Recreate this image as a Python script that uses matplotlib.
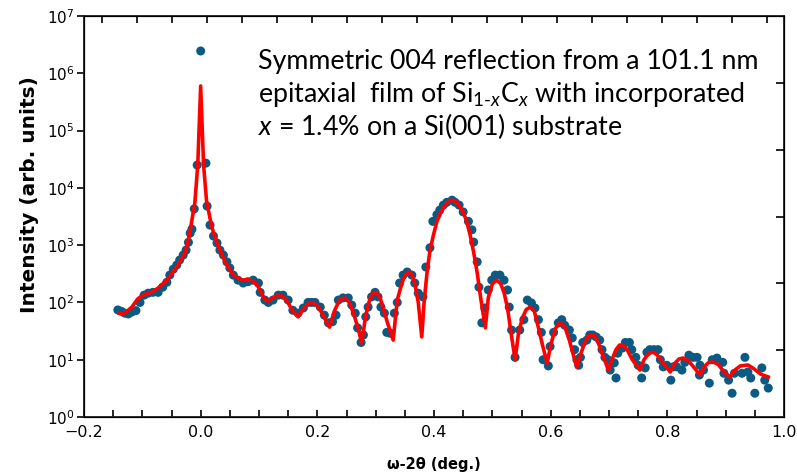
import matplotlib
matplotlib.use("Agg")
import matplotlib.pyplot as plt
import numpy as np

# measured data (dots)
dot_x = [-0.142, -0.136, -0.130, -0.124, -0.118, -0.111, -0.104, -0.097, -0.090, -0.082,
         -0.073, -0.065, -0.058, -0.053, -0.047, -0.041, -0.036, -0.030, -0.025, -0.021,
         -0.018, -0.015, -0.011, -0.006, 0.000, 0.009, 0.011, 0.016, 0.022, 0.028,
         0.033, 0.039, 0.045, 0.050, 0.056, 0.064, 0.073, 0.081, 0.090, 0.099,
         0.102, 0.110, 0.116, 0.124, 0.133, 0.141, 0.150, 0.158, 0.167, 0.176,
         0.184, 0.190, 0.196, 0.205, 0.212, 0.219, 0.226, 0.232, 0.236, 0.244,
         0.253, 0.259, 0.265, 0.269, 0.275, 0.279, 0.283, 0.287, 0.293, 0.299,
         0.304, 0.309, 0.315, 0.319, 0.325, 0.332, 0.337, 0.341, 0.347, 0.354,
         0.362, 0.367, 0.373, 0.381, 0.386, 0.393, 0.398, 0.405, 0.410, 0.416,
         0.422, 0.431, 0.436, 0.443, 0.450, 0.459, 0.465, 0.468, 0.474, 0.477,
         0.482, 0.487, 0.493, 0.499, 0.505, 0.513, 0.520, 0.526, 0.529, 0.533,
         0.539, 0.547, 0.554, 0.560, 0.567, 0.573, 0.579, 0.584, 0.587, 0.596,
         0.599, 0.605, 0.613, 0.619, 0.624, 0.632, 0.637, 0.641, 0.645, 0.648,
         0.651, 0.655, 0.662, 0.667, 0.672, 0.678, 0.684, 0.688, 0.693, 0.698,
         0.702, 0.709, 0.712, 0.715, 0.723, 0.728, 0.735, 0.739, 0.746, 0.750,
         0.756, 0.762, 0.765, 0.770, 0.777, 0.784, 0.788, 0.793, 0.799, 0.806,
         0.810, 0.816, 0.825, 0.830, 0.837, 0.844, 0.851, 0.855, 0.856, 0.862,
         0.872, 0.877, 0.885, 0.895, 0.897, 0.905, 0.911, 0.915, 0.928, 0.933,
         0.938, 0.943, 0.950, 0.962, 0.967, 0.973]
dot_y = [74, 70, 65, 63, 68, 72, 100, 134, 145, 150,
         150, 185, 225, 300, 380, 450, 550, 670, 820, 1120,
         1620, 1900, 4300, 25000, 2450000, 27000, 4800, 2240, 1440, 1090,
         820, 670, 510, 400, 300, 245, 218, 230, 245, 218,
         150, 110, 100, 110, 134, 134, 110, 73, 65, 80,
         100, 100, 100, 83, 60, 44, 46, 60, 110, 120,
         120, 90, 65, 36, 20, 27, 56, 83, 125, 150,
         125, 83, 65, 30, 29, 65, 100, 218, 300, 340,
         300, 218, 145, 125, 415, 900, 2600, 3400, 4100, 5000,
         5600, 6100, 5600, 5000, 3800, 2600, 1850, 1130, 510, 185,
         44, 80, 165, 245, 300, 300, 245, 165, 83, 33,
         11, 33, 50, 110, 98, 80, 50, 30, 10, 7.8,
         17, 30, 44, 50, 40, 33, 24, 15, 10, 8,
         11, 20, 22, 27, 27, 25, 22, 15, 11, 10,
         6.6, 8.8, 4.8, 13, 16, 20, 20, 15, 11, 8,
         4.8, 7.2, 13.5, 15, 15, 15, 10, 7.5, 8, 4.4,
         7.5, 7.5, 6.6, 9, 12, 11, 11, 5.4, 8, 6.6,
         3.9, 10, 10.7, 9, 5.8, 4.4, 2.6, 5.8, 5.8, 11,
         6.1, 4.8, 2.6, 7.2, 4.4, 3.2]

# simulated fit (red line)
fit_x = [-0.140, -0.130, -0.118, -0.108, -0.099, -0.085, -0.073, -0.058, -0.041, -0.027,
         -0.020, -0.010, -0.005, 0.000, 0.005, 0.010, 0.019, 0.028, 0.042, 0.056,
         0.070, 0.080, 0.088, 0.095, 0.099, 0.105, 0.110, 0.116, 0.124, 0.133,
         0.141, 0.150, 0.158, 0.167, 0.175, 0.184, 0.193, 0.201, 0.210, 0.216,
         0.221, 0.229, 0.238, 0.247, 0.255, 0.263, 0.270, 0.276, 0.283, 0.290,
         0.296, 0.301, 0.307, 0.313, 0.320, 0.330, 0.337, 0.345, 0.351, 0.357,
         0.362, 0.367, 0.373, 0.379, 0.383, 0.388, 0.393, 0.399, 0.405, 0.411,
         0.416, 0.421, 0.426, 0.431, 0.436, 0.442, 0.450, 0.456, 0.462, 0.468,
         0.474, 0.480, 0.488, 0.493, 0.500, 0.507, 0.514, 0.520, 0.526, 0.532,
         0.539, 0.545, 0.552, 0.558, 0.565, 0.572, 0.578, 0.586, 0.594, 0.600,
         0.608, 0.616, 0.624, 0.632, 0.638, 0.645, 0.652, 0.660, 0.667, 0.673,
         0.680, 0.688, 0.699, 0.705, 0.712, 0.718, 0.724, 0.731, 0.740, 0.753,
         0.760, 0.768, 0.776, 0.783, 0.792, 0.805, 0.812, 0.820, 0.827, 0.835,
         0.845, 0.856, 0.863, 0.871, 0.879, 0.887, 0.897, 0.907, 0.915, 0.925,
         0.938, 0.948, 0.960, 0.973]
fit_y = [65, 65, 83, 115, 134, 150, 178, 245, 415, 730,
         1400, 5400, 25000, 600000, 25000, 6000, 2080, 1090, 510, 300,
         246, 250, 240, 210, 186, 140, 115, 105, 122, 132,
         128, 98, 70, 56, 75, 95, 100, 85, 60, 45,
         37, 70, 110, 120, 100, 60, 35, 19.5, 60, 115,
         145, 150, 125, 80, 45, 22, 110, 218, 310, 340,
         310, 218, 100, 25, 100, 330, 800, 1500, 2600, 3600,
         4500, 5300, 5900, 6100, 5900, 5100, 3800, 2600, 1500, 750,
         330, 120, 36, 120, 210, 245, 215, 150, 80, 30,
         10, 30, 55, 75, 83, 70, 40, 18, 8.7, 18,
         35, 44, 38, 22, 13, 7.4, 13, 22, 27, 27,
         22, 13, 6.6, 10, 15, 18, 18, 15, 10, 6.6,
         10, 13, 13.5, 12, 9, 6.1, 8.5, 10.3, 10.7, 9.8,
         7.5, 5.4, 7.5, 9, 9.1, 8.3, 6.2, 5, 6.5, 7.8,
         8.1, 7, 5.6, 5]

x_ticks = [-0.2, 0.0, 0.2, 0.4, 0.6, 0.8, 1.0]
x_ticklabels = ["\u22120.2", "0.0", "0.2", "0.4", "0.6", "0.8", "1.0"]
y_ticks = [1, 10, 100, 1e3, 1e4, 1e5, 1e6, 1e7]

plt.rcParams["mathtext.rm"] = "Lato"
plt.rcParams["mathtext.it"] = "Lato:italic"

fig = plt.figure(figsize=(7.97, 4.72), dpi=100)
ax = fig.add_axes([0.1054, 0.1165, 0.8783, 0.8496])

ax.scatter(dot_x, dot_y, s=42, color="#0b5a84", edgecolors="none", zorder=2)
ax.plot(fit_x, fit_y, color="#ff0000", lw=2.6, zorder=3, solid_joinstyle="round")

ax.set_yscale("log")
ax.set_xlim(-0.2, 1.0)
ax.set_ylim(1, 1e7)
ax.set_xticks(x_ticks)
ax.set_xticklabels(x_ticklabels)
ax.set_xticks(np.arange(-0.15, 1.0, 0.05), minor=True)
ax.set_yticks(y_ticks)
ax.set_yticklabels([f"$10^{{{i}}}$" for i in range(8)])
ax.yaxis.set_minor_locator(matplotlib.ticker.NullLocator())
ax.tick_params(axis="x", which="both", direction="in", length=5, width=1.2,
               top=False, labelsize=11.5, pad=6)
ax.tick_params(axis="y", which="both", direction="out", length=5, width=1.2,
               right=False, labelsize=11, pad=2)
for sp in ax.spines.values():
    sp.set_linewidth(1.3)
    sp.set_color("#222222")

ax.set_xlabel("\u03c9-2\u03b8 (deg.)", fontsize=10.5, fontweight="bold", labelpad=12)
ax.set_ylabel("Intensity (arb. units)", fontsize=14.5, fontweight="bold")
ax.yaxis.set_label_coords(-0.064, 0.555)

# right-side ticks
ax2 = ax.twinx()
ax2.set_ylim(0, 6)
ax2.set_yticks([1, 2, 3, 4, 5])
ax2.tick_params(axis="y", direction="in", length=6, width=1.2, labelright=False)

# top ticks
ax3 = ax.twiny()
ax3.set_xlim(-0.2, 1.0)
ax3.set_xticks(np.arange(-0.169, 0.99, 0.06))
ax3.tick_params(axis="x", direction="in", length=5, width=1.2, labeltop=False)

fs = 19.3
tx = 258 / 797
fig.text(tx, 1 - 69 / 472, "Symmetric 004 reflection from a 101.1 nm",
         fontsize=fs, family="Lato", va="baseline", ha="left")
fig.text(tx, 1 - 102 / 472,
         r"epitaxial  film of Si$_{\mathit{1\text{-}x}}$C$_{\mathit{x}}$ with incorporated",
         fontsize=fs, family="Lato", va="baseline", ha="left", math_fontfamily="custom")
fig.text(tx, 1 - 135 / 472, r"$\mathit{x}$ = 1.4% on a Si(001) substrate",
         fontsize=fs, family="Lato", va="baseline", ha="left", math_fontfamily="custom")

fig.savefig("out.png", dpi=100)
